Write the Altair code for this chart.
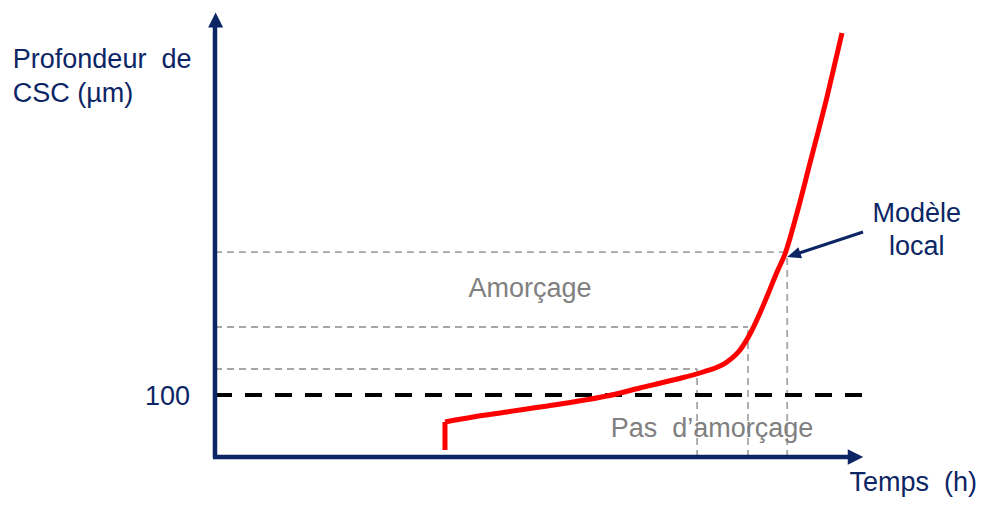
import altair as alt
import pandas as pd

# ---- data (time in arbitrary hours, depth in µm) ----
curve_t = [35.49, 39.81, 45.06, 50.15, 55.25, 60.49, 65.59, 70.68, 75.31, 79.01,
           81.02, 82.56, 84.10, 85.34, 86.73, 87.96, 89.81, 91.82, 94.44, 96.76]
curve_d = [56.5, 64.5, 72.6, 80.6, 88.7, 98.4, 111.3, 124.2, 137.1, 153.2,
           172.6, 198.4, 232.3, 262.9, 298.4, 327.4, 393.5, 474.2, 580.6, 683.9]
start_t = [35.49, 35.49]
start_d = [11.3, 56.5]

level_t = [74.4, 82.25, 88.3]
level_d = [141.9, 209.7, 330.6]
threshold = 100

# ---- styles / layout ----
NAVY = "#0B2565"
GRAY_LINE = "#A6A6A6"
GRAY_TEXT = "#808080"
RED = "#FF0000"
FONT = "Liberation Sans"
FS = 27
NB = "\u00a0"

xs = alt.Scale(domain=[-31.94, 117.59], nice=False, zero=False)
ys = alt.Scale(domain=[-66.13, 724.19], nice=False, zero=False)


def X(f):
    return alt.X(f, type="quantitative", scale=xs, axis=None)


def Y(f):
    return alt.Y(f, type="quantitative", scale=ys, axis=None)


lev = pd.DataFrame({"t0": [0] * 3, "t": level_t, "d0": [0] * 3, "d": level_d})

h_gray = alt.Chart(lev).mark_rule(color=GRAY_LINE, strokeWidth=1.8, strokeDash=[7, 5]).encode(
    x=X("t0"), x2="t", y=Y("d"))
v_gray = alt.Chart(lev).mark_rule(color=GRAY_LINE, strokeWidth=1.8, strokeDash=[7, 5]).encode(
    x=X("t"), y=Y("d0"), y2="d")

thr = alt.Chart(pd.DataFrame({"t0": [0], "t1": [100], "d": [threshold]})).mark_rule(
    color="black", strokeWidth=4, strokeDash=[17, 13]).encode(x=X("t0"), x2="t1", y=Y("d"))

curve_df = pd.DataFrame({"t": curve_t, "d": curve_d})
curve = alt.Chart(curve_df).mark_line(color=RED, strokeWidth=5, interpolate="monotone").encode(
    x=X("t"), y=Y("d"))
start_df = pd.DataFrame({"t": start_t, "d": start_d, "o": [0, 1]})
start = alt.Chart(start_df).mark_line(color=RED, strokeWidth=5, strokeJoin="miter").encode(
    x=X("t"), y=Y("d"), order="o:Q")

# axes
axes_df = pd.DataFrame({"x0": [0, -0.3], "x1": [0, 98.84], "y0": [-2, 0], "y1": [705.6, 0]})
axes = alt.Chart(axes_df).mark_rule(color=NAVY, strokeWidth=4.5).encode(
    x=X("x0"), x2="x1", y=Y("y0"), y2="y1")

up_head = alt.Chart(pd.DataFrame({"t": [0.1], "d": [705.0]})).mark_point(
    shape="M0,-1L1,1L-1,1Z", filled=True, opacity=1, color=NAVY, size=225, strokeWidth=0).encode(
    x=X("t"), y=Y("d"))
right_head = alt.Chart(pd.DataFrame({"t": [98.84], "d": [0]})).mark_point(
    shape="M1,0L-1,-1L-1,1Z", filled=True, opacity=1, color=NAVY, size=240, strokeWidth=0).encode(
    x=X("t"), y=Y("d"))

# annotation arrow
ann_df = pd.DataFrame({"t0": [100.0], "d0": [362.9], "t1": [89.6], "d1": [327.0]})
ann_line = alt.Chart(ann_df).mark_rule(color=NAVY, strokeWidth=3).encode(
    x=X("t0"), x2="t1", y=Y("d0"), y2="d1")
ann_head = alt.Chart(pd.DataFrame({"t": [89.3], "d": [325.9]})).mark_point(
    shape="M1,0L-1,-0.85L-1,0.85Z", filled=True, opacity=1, color=NAVY, size=190,
    strokeWidth=0, angle=161.8).encode(x=X("t"), y=Y("d"))


def texts(rows, align, color):
    df = pd.DataFrame(rows, columns=["t", "d", "label"])
    return alt.Chart(df).mark_text(align=align, baseline="alphabetic", font=FONT,
                                   fontSize=FS, color=color).encode(
        x=X("t"), y=Y("d"), text="label:N")


left_navy = texts([(-31.2, 627.4, "Profondeur" + NB + NB + "de"), (-31.2, 572.6, "CSC (µm)"),
                   (97.9, -54.5, "Temps" + NB + NB + "(h)")], "left", NAVY)
right_navy = texts([(-3.86, 83.9, "100")], "right", NAVY)
center_navy = texts([(108.3, 379.0, "Modèle"), (108.3, 325.8, "local")], "center", NAVY)
center_gray = texts([(48.6, 258.1, "Amorçage"),
                     (76.7, 32.3, "Pas" + NB + NB + "d\u2019amorçage")], "center", GRAY_TEXT)

chart = alt.layer(
    h_gray, v_gray, thr, curve, start, axes, up_head, right_head, ann_line, ann_head,
    left_navy, right_navy, center_navy, center_gray
).properties(
    width=969, height=490, padding=0,
    autosize=alt.AutoSizeParams(type="none"),
    background="white",
).configure_view(stroke=None)

chart.save("out.html", embed_options={"renderer": "svg", "actions": False})
